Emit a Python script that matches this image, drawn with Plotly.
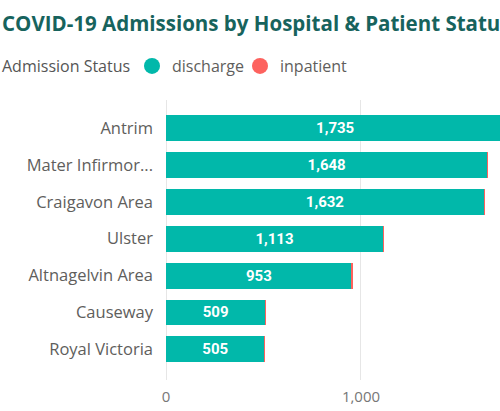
import plotly.graph_objects as go

hospitals = ["Antrim", "Mater Infirmorum", "Craigavon Area", "Ulster",
             "Altnagelvin Area", "Causeway", "Royal Victoria"]
hospital_labels = ["Antrim", "Mater Infirmor...", "Craigavon Area", "Ulster",
                   "Altnagelvin Area", "Causeway", "Royal Victoria"]
discharge = [1735, 1648, 1632, 1113, 953, 509, 505]
inpatient = [3, 3, 3, 2, 2, 1, 1]
x_ticks = [0, 1000]
x_tick_labels = ["0", "1,000"]

TEAL = "#01B8AA"
RED = "#FD625E"
GREY = "#605E5C"
FONT = "Open Sans"

fig = go.Figure()
fig.add_trace(go.Bar(name="discharge", y=hospitals, x=discharge, orientation="h",
                     marker=dict(color=TEAL, line_width=0),
                     texttemplate="%{x:,}", textposition="inside",
                     insidetextanchor="middle",
                     textfont=dict(family="Roboto", size=15, color="white", weight="bold"),
                     showlegend=False))
fig.add_trace(go.Bar(name="inpatient", y=hospitals, x=inpatient, orientation="h",
                     marker=dict(color=RED, line_width=0), showlegend=False))

# circle markers for the legend, one legend box each so they sit where Power BI puts them
for name, col, lg in [("discharge", TEAL, "legend"), ("inpatient", RED, "legend2")]:
    fig.add_trace(go.Scatter(name=name, x=[None], y=[None], mode="markers",
                             marker=dict(symbol="circle", size=16, color=col),
                             legend=lg))

legend_style = dict(orientation="h", xref="container", xanchor="left",
                    yref="container", y=1 - 66 / 411, yanchor="middle",
                    font=dict(size=16, color=GREY), itemwidth=30,
                    bgcolor="rgba(0,0,0,0)")

fig.update_layout(
    width=500, height=411,
    margin=dict(l=166, r=0, t=100, b=31, autoexpand=False),
    barmode="stack", bargap=0.3,
    paper_bgcolor="white", plot_bgcolor="white",
    font=dict(family=FONT, color=GREY),
    title=dict(text="COVID-19 Admissions by Hospital & Patient Status",
               xref="container", x=0.004, xanchor="left",
               yref="container", y=1 - 24 / 411, yanchor="middle",
               font=dict(family=FONT, size=20.5, color="#17635D", weight="bold")),
    legend=dict(x=132 / 500, **legend_style),
    legend2=dict(x=240 / 500, **legend_style),
    annotations=[dict(text="Admission Status", xref="paper", yref="paper",
                      x=-166 / 334, y=1 + 34 / 280, xanchor="left", yanchor="middle",
                      showarrow=False, font=dict(size=16, color="#555555"))],
)
fig.update_xaxes(range=[0, 1713], tickvals=x_ticks, ticktext=x_tick_labels,
                 showgrid=True, gridcolor="#E6E6E6", gridwidth=1,
                 zeroline=True, zerolinecolor="#E6E6E6", zerolinewidth=1,
                 showline=False, ticks="", ticklabelstandoff=6,
                 tickfont=dict(size=15, color="#777777"),
                 automargin=False, fixedrange=True)
fig.update_yaxes(categoryorder="array", categoryarray=hospitals,
                 tickvals=hospitals, ticktext=hospital_labels,
                 range=[6.83, -0.76], showgrid=False, zeroline=False,
                 ticks="", ticklabelstandoff=12,
                 tickfont=dict(size=16.5, color=GREY),
                 automargin=False, fixedrange=True)

fig.write_html("out.html", config={"displayModeBar": False},
               post_script="document.body.style.margin='0';")
